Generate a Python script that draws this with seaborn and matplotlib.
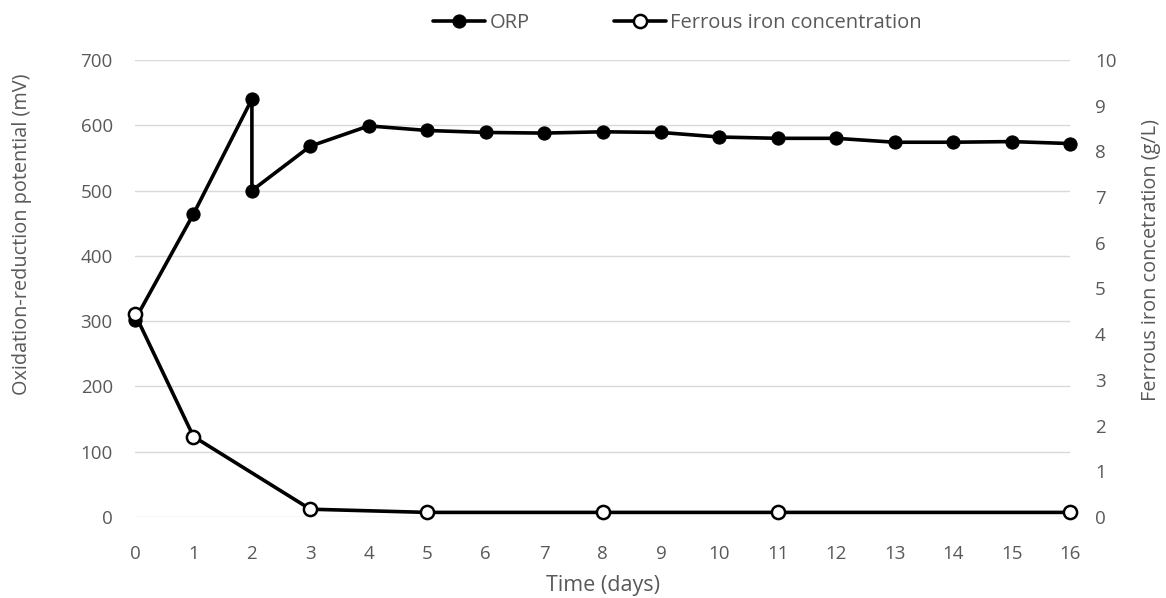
import pandas as pd
import matplotlib.pyplot as plt
import seaborn as sns

orp_days = [0, 1, 2, 2, 3, 4, 5, 6, 7, 8, 9, 10, 11, 12, 13, 14, 15, 16]
orp_mv = [302, 464, 640, 500, 568, 599, 592, 589, 588, 590, 589, 582, 580, 580, 574, 574, 575, 572]

fe_days = [0, 1, 3, 5, 8, 11, 16]
fe_gl = [4.44, 1.76, 0.17, 0.1, 0.1, 0.1, 0.1]

df_orp = pd.DataFrame({"day": orp_days, "orp": orp_mv})
df_fe = pd.DataFrame({"day": fe_days, "fe": fe_gl})

sns.set_style("white")
plt.rcParams["font.family"] = ["Open Sans", "DejaVu Sans"]
grey = "#595959"

fig = plt.figure(figsize=(11.66, 5.98), dpi=100)
ax = fig.add_axes([0.1158, 0.1355, 0.8019, 0.7642])
ax2 = ax.twinx()

sns.lineplot(data=df_orp, x="day", y="orp", ax=ax, color="black", lw=2.6, sort=False,
             estimator=None, marker="o", markersize=9.5, markeredgecolor="black",
             label="ORP", legend=False, clip_on=False)
sns.lineplot(data=df_fe, x="day", y="fe", ax=ax2, color="black", lw=2.6,
             marker="o", markersize=9.5, markerfacecolor="white",
             markeredgecolor="black", markeredgewidth=1.8,
             label="Ferrous iron concentration", legend=False, clip_on=False)

ax.set_xlim(0, 16)
ax.set_ylim(0, 700)
ax2.set_ylim(0, 10)
ax.set_xticks(range(17))
ax.set_yticks(range(0, 701, 100))
ax2.set_yticks(range(0, 11))

ax.grid(axis="y", color="#d9d9d9", lw=1)
ax.set_axisbelow(True)
for a in (ax, ax2):
    for s in a.spines.values():
        s.set_visible(False)
    a.tick_params(length=0, labelsize=13.5, labelcolor=grey)
ax.tick_params(axis="y", pad=16)
ax.tick_params(axis="x", pad=20)
ax2.tick_params(axis="y", pad=18)

ax.set_xlabel("Time (days)", fontsize=15.5, color=grey, labelpad=9)
ax.set_ylabel("Oxidation-reduction potential (mV)", fontsize=14.3, color=grey)
ax2.set_ylabel("Ferrous iron concetration (g/L)", fontsize=14.3, color=grey)
ax.yaxis.set_label_coords(-0.110, 0.619)
ax2.yaxis.set_label_coords(1.076, 0.562)

h1, l1 = ax.get_legend_handles_labels()
h2, l2 = ax2.get_legend_handles_labels()
fig.legend(h1 + h2, l1 + l2, loc="upper center", bbox_to_anchor=(0.581, 1.008), ncol=2,
           frameon=False, fontsize=14.5, labelcolor=grey, handlelength=2.6,
           handletextpad=0.2, columnspacing=4.2)

plt.savefig("out.png", dpi=100)
